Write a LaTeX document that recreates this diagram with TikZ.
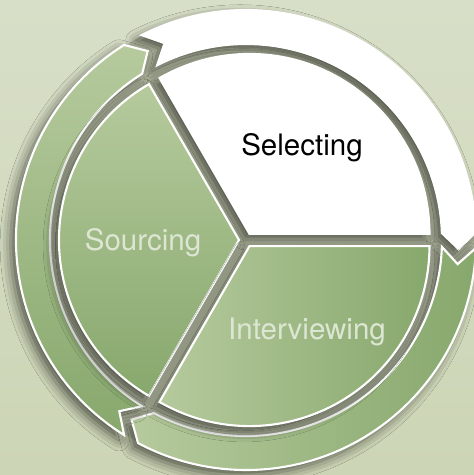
\documentclass[tikz,border=0pt]{standalone}
\usepackage{fontspec}
\setmainfont{TeX Gyre Heros}
\usetikzlibrary{shadows.blur}

\definecolor{bgtop}{HTML}{D8DFC8}
\definecolor{bgbot}{HTML}{CCD5B5}
\definecolor{hollow}{HTML}{BBC2A9}
\definecolor{leafhi}{HTML}{B6CA9D}
\definecolor{leaflo}{HTML}{87A86D}
\definecolor{txtlight}{HTML}{DDE6D2}

% ring arrow between start angle #1 and end angle #2 (clockwise)
\newcommand{\ringarrow}[2]{(#1:196) -- (#1-4.5:213) -- (#1:230)
  arc[start angle=#1, end angle=#2, radius=230] -- (#2-4.5:213) -- (#2:196)
  arc[start angle=#2, end angle=#1, radius=196] -- cycle}
% pie slice between two angles
\newcommand{\slice}[2]{(0,0) -- (#1:180) arc[start angle=#1, end angle=#2, radius=180] -- cycle}

\begin{document}
\begin{tikzpicture}[scale=0.02,
    rim/.style={draw=white, line width=1.2pt, line join=miter},
    soft/.style={blur shadow={shadow xshift=-3pt, shadow yshift=-3pt, shadow blur radius=6pt, shadow opacity=60}},
    stagetext/.style={font=\fontsize{16.8}{20}\selectfont}]
    \useasboundingbox (-246,-235) rectangle (228,240);
    \fill[top color=bgtop, bottom color=bgbot] (-246,-235) rectangle (228,240);

    % hollow behind the ring and the pie
    \fill[hollow] (0,0) circle[radius=229];

    % ring arrows
    \draw[rim, soft, fill=white] \ringarrow{117}{2};
    \draw[rim, soft, left color=leafhi, right color=leaflo] \ringarrow{-2}{-118};
    \draw[rim, soft, top color=leafhi, bottom color=leaflo] \ringarrow{238}{122};

    % pie
    \draw[rim, soft, fill=white, shift={(60:7)}] \slice{0}{120};
    \draw[rim, soft, top color=leafhi, bottom color=leaflo, shift={(180:7)}] \slice{120}{240};
    \draw[rim, soft, left color=leafhi, right color=leaflo, shift={(300:7)}] \slice{240}{360};

    \node[stagetext] (selecting) at (56,92) {Selecting};
    \node[stagetext, text=txtlight] (sourcing) at (-103,-3) {Sourcing};
    \node[stagetext, text=txtlight] (interviewing) at (61,-92) {Interviewing};
\end{tikzpicture}
\end{document}
